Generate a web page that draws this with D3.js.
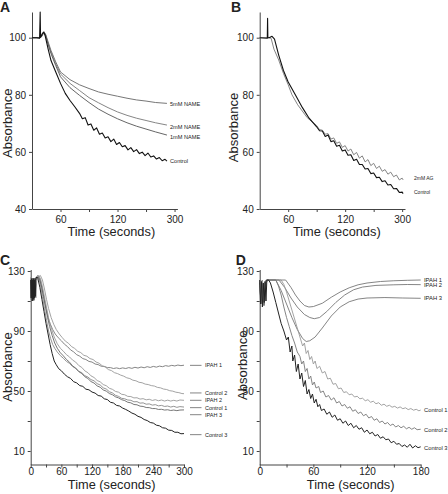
<!DOCTYPE html>
<html><head><meta charset="utf-8">
<script src="https://cdn.jsdelivr.net/npm/d3@7"></script>
<style>
html,body{margin:0;padding:0;background:#fff;}
svg{display:block;}
text{font-family:"Liberation Sans",Arial,sans-serif;fill:#222;}
</style></head><body>
<div id="chart"></div>
<script>
// ---------------- Panel A data (time s, absorbance) ----------------
const aControl = [[30,100],[35,100],[38,99.8],[38.6,109],[39,100.2],[41,101.5],[42.5,102],[44,100.5],[47,96],[50,92],[55,88],[60,84],[65,80.5],[70,78],[75,75.8],[80,73.5],[83,71.6],[86,72.0],[89,69.4],[92,69.8],[95,67.6],[98,68.4],[101,66.2],[104,66.6],[107,64.9],[110,65.3],[113,63.6],[116,64.5],[119,62.6],[122,63.3],[125,61.8],[128,62.2],[131,60.7],[134,61.5],[137,60.1],[140,60.8],[143,59.4],[146,59.9],[149,58.7],[152,59.6],[155,58.2],[158,58.6],[161,57.5],[164,58.0],[167,56.9],[170,57.4],[172,56.8]];
const a5mM = [[30,100],[38,100],[40,100.5],[42,101.8],[44,101.5],[47,98.5],[50,95.5],[55,91.5],[60,88],[70,85.3],[80,83.5],[90,82.2],[100,81],[110,80.2],[120,79.5],[130,78.8],[140,78.2],[150,77.8],[160,77.3],[172,77]];
const a2mM = [[30,100],[38,100],[40,100.4],[42,101.6],[44,101.3],[47,98],[50,95],[55,90.8],[60,87.3],[70,84],[80,81.5],[90,79],[100,77.2],[110,75.5],[120,74],[130,72.8],[140,71.8],[150,71],[160,70.2],[172,69.4]];
const a1mM = [[30,100],[38,100],[40,100.3],[42,101.5],[44,101.2],[47,97.6],[50,94.4],[55,90.2],[60,86.3],[70,82.5],[80,79.8],[90,77.3],[100,75],[110,73.2],[120,71.6],[130,70.2],[140,69],[150,68],[160,67],[172,65.9]];
const aLabels = ["5mM NAME","2mM NAME","1mM NAME","Control"];
const aLabelVals = [76.8,68.8,65.3,56.8];

// ---------------- Panel B data ----------------
const bControl = [[30,100],[38,99.8],[38.3,106.8],[38.6,100],[40,100],[43,100.5],[45.6,99.5],[50,93.9],[55,88.5],[60,84.5],[67.5,80],[75,75.5],[82,71.8],[90,68.8],[93,67.4],[96,67.3],[99,65.4],[102,65.9],[105,63.6],[108,63.9],[111,62.0],[114,62.3],[117,60.3],[120,60.7],[123,58.8],[126,59.0],[129,57.0],[132,57.4],[135,55.6],[138,55.6],[141,54.0],[144,54.2],[147,52.4],[150,52.6],[153,51.0],[156,51.1],[159,49.6],[162,49.9],[165,48.4],[168,48.6],[171,47.1],[174,47.2],[177,45.8],[180,45.9],[181,45.4]];
const bAG = [[30,100],[40,100],[42,99.8],[45,96],[50,92.2],[55,87.5],[60,83.5],[64,80],[70,76.5],[80,72],[90,69.2],[93,67.8],[96,67.6],[99,66.2],[102,66.4],[105,64.5],[108,64.9],[111,63.0],[114,63.5],[117,61.6],[120,62.2],[123,60.3],[126,61.0],[129,59.0],[132,59.8],[135,57.8],[138,58.6],[141,56.5],[144,57.3],[147,55.2],[150,56.0],[153,54.2],[156,55.0],[159,53.2],[162,53.8],[165,52.2],[168,52.9],[171,51.3],[174,51.9],[177,50.2],[180,50.8],[181,50.2]];
const bLabels = ["2mM AG","Control"];
const bLabelVals = [50.8,45.85];

// ---------------- Panel C data ----------------
const cIPAH1 = [[0,122],[1,111],[2,125],[3,112],[4,124],[5,110],[6,125],[7,112],[8,124],[11,126],[14,127],[18,125],[22,119],[26,112],[30,105],[34,99],[38,95],[43,91],[48,88],[54,85.5],[60,83.5],[66,81.2],[72,79.6],[78,77.4],[84,76.1],[90,74.2],[96,73.2],[102,71.6],[108,71.0],[114,69.7],[120,69.3],[126,68.0],[132,67.6],[138,66.5],[144,66.4],[150,65.6],[156,65.6],[162,65.0],[168,65.4],[174,64.9],[180,65.4],[186,65.0],[192,65.6],[198,65.1],[204,65.8],[210,65.3],[216,66.0],[222,65.5],[228,66.2],[234,65.7],[240,66.4],[246,65.9],[252,66.6],[258,66.2],[264,66.9],[270,66.5],[276,67.1],[282,66.7],[288,67.3],[294,66.9],[300,67.2]];
const cControl2 = [[0,124],[1,112],[2,125],[3,111],[4,124],[5,112],[6,125],[7,111],[8,124],[11,125],[15,126],[19,127],[23,124],[27,118],[31,111],[35,105],[40,99],[45,94.5],[50,91],[56,88],[62,85.5],[68,83.2],[74,81.8],[80,79.6],[86,78.4],[92,76.5],[98,75.6],[104,73.8],[110,73.2],[116,71.6],[122,71.0],[128,69.3],[134,68.5],[140,66.8],[146,66.0],[152,64.3],[158,63.6],[164,62.2],[170,61.6],[176,60.6],[182,59.9],[188,58.8],[194,58.3],[200,57.2],[206,56.8],[212,55.8],[218,55.5],[224,54.6],[230,54.3],[236,53.6],[242,53.3],[248,52.4],[254,52.1],[260,51.3],[266,51.0],[272,50.2],[278,49.9],[284,49.2],[290,48.9],[296,48.3],[300,48.2]];
const cIPAH2 = [[0,125],[1,111],[2,124],[3,113],[4,125],[5,110],[6,124],[7,113],[8,125],[11,126],[16,127],[20,124],[24,118],[28,111],[32,104],[36,97],[41,91],[46,86],[52,81.5],[58,78.5],[64,76.5],[70,74.2],[76,72.7],[82,70.6],[88,69.3],[94,67.0],[100,65.7],[106,63.4],[112,62.2],[118,60.1],[124,59.0],[130,57.0],[136,56.1],[142,54.3],[148,53.5],[154,51.8],[160,51.1],[166,49.7],[172,49.2],[178,47.8],[184,47.5],[190,46.4],[196,46.3],[202,45.4],[208,45.5],[214,44.6],[220,44.9],[226,44.1],[232,44.5],[238,43.7],[244,44.2],[250,43.5],[256,44.0],[262,43.3],[268,43.9],[274,43.3],[280,43.8],[286,43.3],[292,44.0],[300,43.8]];
const cControl1 = [[0,118],[1,126],[2,111],[3,125],[4,112],[5,124],[6,110],[7,125],[8,113],[9,124],[10,112],[12,125],[15,126],[19,121],[23,113],[27,105],[31,97],[35,90],[39,85],[43,81],[47,78.5],[52,76],[58,73.6],[64,71.8],[70,69.7],[76,68.4],[82,66.3],[88,65.1],[94,63.1],[100,62.2],[106,60.2],[112,59.3],[118,57.6],[124,56.8],[130,54.9],[136,54.0],[142,52.1],[148,51.3],[154,49.5],[160,48.7],[166,47.1],[172,46.4],[178,45.1],[184,44.8],[190,44.0],[196,43.8],[202,42.8],[208,42.9],[214,41.9],[220,42.1],[226,41.2],[232,41.4],[238,40.6],[244,40.9],[250,40.1],[256,40.4],[262,39.7],[268,40.0],[274,39.3],[280,39.8],[286,39.1],[292,39.6],[300,39.3]];
const cIPAH3 = [[0,123],[1,113],[2,124],[3,111],[4,125],[5,113],[6,124],[7,111],[8,125],[10,124],[13,126],[17,125],[21,120],[25,113],[29,106],[33,99],[37,93],[42,87],[47,82],[52,78.5],[58,75.5],[64,73.4],[70,71.0],[76,69.2],[82,66.7],[88,65.3],[94,63.0],[100,61.6],[106,59.5],[112,58.3],[118,56.3],[124,55.3],[130,53.4],[136,52.5],[142,50.7],[148,49.9],[154,48.3],[160,47.5],[166,46.1],[172,45.4],[178,44.2],[184,43.6],[190,42.5],[196,42.1],[202,41.0],[208,40.8],[214,39.9],[220,39.7],[226,39.0],[232,38.9],[238,38.3],[244,38.3],[250,37.7],[256,37.8],[262,37.3],[268,37.5],[274,37.0],[280,37.3],[286,36.9],[292,37.3],[300,37.4]];
const cControl3 = [[0,124],[1,112],[2,125],[3,110],[4,124],[5,111],[6,125],[7,112],[8,124],[9,113],[10,125],[12,126],[14,125],[18,119],[22,111],[26,103],[30,95],[34,88],[38,81],[42,75],[46,70],[50,67.5],[55,64.8],[60,63.5],[66,61.2],[72,59.5],[78,58.4],[84,56.2],[90,55.4],[96,53.6],[102,53.1],[108,51.2],[114,50.8],[120,49.3],[126,48.6],[132,47.0],[138,46.6],[144,44.8],[150,44.3],[156,42.5],[162,42.0],[168,40.4],[174,40.0],[180,38.6],[186,37.7],[192,36.6],[198,35.3],[204,34.5],[210,33.1],[216,32.4],[222,31.0],[228,30.3],[234,29.0],[240,28.6],[246,27.2],[252,26.8],[258,25.5],[264,25.2],[270,23.9],[276,23.7],[282,22.5],[288,22.5],[294,21.5],[300,21.6]];
const cLabels = ["IPAH 1","Control 2","IPAH 2","Control 1","IPAH 3","Control 3"];
const cLabelVals = [67.1,48.7,43.8,38.9,34.2,20.9];

// ---------------- Panel D data ----------------
const dIPAH1 = [[0,120],[1.5,110],[3,124],[5,108],[7,123],[9,124],[29,124],[35,119],[40,114],[45,110],[50,107],[55,106],[60,106.3],[70,108.5],[80,112.5],[90,116],[100,118.8],[110,120.8],[120,122],[135,123],[150,123.5],[165,123.8],[180,124]];
const dIPAH2 = [[0,122],[1.5,109],[3,123],[5,107],[7,124],[9,124],[21.5,124],[28,119],[35,112],[42,106],[50,101],[56,99],[61,98.2],[67,99],[75,103],[85,109],[95,114],[105,117.5],[115,119.3],[130,120.4],[150,120.8],[165,121],[180,120.9]];
const dIPAH3 = [[0,123],[1.5,111],[3,124],[5,109],[7,122],[9,124],[18,124],[24,117],[30,108],[36,99],[42,91],[48,85],[52,83],[56,83.5],[62,86],[70,92],[80,100],[90,106],[100,109.5],[110,111.3],[120,112],[140,112.3],[160,112],[180,111.8]];
const dControl1 = [[0,121],[1.5,109],[3,124],[5,110],[7,122],[9,124],[24,124],[27,121],[30,116],[33,110],[36,104],[39,98],[42,92],[45,86],[48,80],[50,82],[52,75],[54,77],[56,71],[58,73],[60,68],[62,70],[64,65],[67,66.5],[70,62],[73,63],[76,58],[79,58.5],[82,54.5],[85,55],[88,51.5],[91,52],[94,49],[97,49.5],[100,47.5],[103,48],[106,46],[109,46.5],[112,44.8],[115,45.2],[118,43.5],[121,44.2],[124,42.5],[127,43.2],[130,41.5],[133,42.2],[136,40.5],[139,41.2],[142,39.8],[145,40.5],[148,39.2],[151,39.8],[154,38.6],[157,39.4],[160,38.2],[163,38.8],[166,37.6],[169,38.3],[172,37.2],[175,37.8],[178,36.8],[180,37.3]];
const dControl2 = [[0,122],[1.5,108],[3,121],[4.5,107],[6,123],[8,124],[18,124],[21,120],[24,114],[27,106],[30,99],[33,93],[36,87],[39,82],[42,76],[45,73],[47,68],[49,70],[51,63],[53,65],[55,58],[57,60],[59,54],[61,56],[63,52],[66,53],[68,49],[71,50],[74,46],[77,47],[80,44],[83,45.5],[86,42],[89,43],[92,40],[95,41],[98,38.5],[101,39.5],[104,36.5],[107,37.5],[110,35],[113,36],[116,33.5],[119,34.5],[122,32],[125,33],[128,30.5],[131,31.5],[134,29],[137,30],[140,28],[143,29],[146,27],[149,28],[152,26],[155,27],[158,25.5],[161,26.5],[164,24.8],[167,25.8],[170,24.5],[173,25.5],[176,24.2],[180,24.5]];
const dControl3 = [[0,124],[1,108],[2,123],[3,106],[4,122],[5,109],[6,123],[7,110],[8,124],[10,124],[12,122],[15,116],[18,109],[21,102],[24,95],[27,90],[30,84],[32,86],[34,76],[36,80],[37,70],[39,74],[41,63],[43,68],[45,58],[47,62],[49,53],[51,57],[53,48],[55,51],[57,45],[59,48],[61,42],[63,44.5],[65,39.5],[67,41],[69,37],[72,38],[75,34.5],[78,36],[81,32.5],[84,34],[87,30.5],[90,31.5],[93,28.5],[96,30],[99,27],[102,28.5],[105,25.5],[108,27],[111,24.5],[114,25.5],[117,22.5],[120,24],[123,21.5],[126,22.5],[129,20],[132,21],[135,18.5],[138,19.5],[141,17.5],[144,18],[147,15.5],[150,16.5],[153,14.5],[156,15],[159,13],[162,14],[165,12.5],[168,14.5],[171,12],[174,13.5],[177,12.2],[180,12.8]];
const dLabels = ["IPAH 1","IPAH 2","IPAH 3","Control 1","Control 2","Control 3"];
const dLabelVals = [123.8,120.5,112,37.1,24.2,12];

// ---------------- Tick labels ----------------
const abXTicks = [60,90,120,150,180];
const abXTickLabels = {60:"60",120:"120",180:"300"};
const abYTicks = [40,60,80,100];
const cXTicks = [0,30,60,90,120,150,180,210,240,270,300];
const cXTickLabels = {0:"0",60:"60",120:"120",180:"180",240:"240",300:"300"};
const dXTicks = [0,30,60,90,120,150,180];
const dXTickLabels = {0:"0",60:"60",120:"120",180:"180"};
const cdYTicks = [10,30,50,70,90,110,130];
const cdYTickLabels = {10:"10",50:"50",90:"90",130:"130"};

const svg = d3.select("#chart").append("svg").attr("width",448).attr("height",494);

function panel(o){
  const g = svg.append("g");
  const x = d3.scaleLinear().domain(o.xDomain).range(o.xRange);
  const y = d3.scaleLinear().domain(o.yDomain).range(o.yRange);
  const line = d3.line().x(d=>x(d[0])).y(d=>y(d[1]));
  const xa = g.append("g").attr("transform",`translate(0,${o.yRange[0]})`)
    .call(d3.axisBottom(x).tickValues(o.xTicks).tickSize(3).tickSizeOuter(0).tickPadding(o.xPad)
      .tickFormat(d=>o.xTickLabels[d]||""));
  const ya = g.append("g").attr("transform",`translate(${o.xRange[0]},0)`)
    .call(d3.axisLeft(y).tickValues(o.yTicks).tickSize(3).tickSizeOuter(0).tickPadding(3)
      .tickFormat(d=>o.yTickLabels ? (o.yTickLabels[d]||"") : String(d)));
  [xa,ya].forEach(a=>{
    a.select(".domain").attr("stroke","#444").attr("stroke-width",1);
    a.selectAll(".tick line").attr("stroke","#444");
    a.selectAll("text").attr("font-size",10).attr("fill","#222")
      .style("font-family","'Liberation Sans',Arial,sans-serif");
  });
  o.series.forEach(s=>{
    g.append("path").datum(s.data).attr("d",line).attr("fill","none")
      .attr("stroke",s.color).attr("stroke-width",s.w||0.9).attr("stroke-linejoin","round");
  });
  o.labels.forEach((t,i)=>{
    const yy = y(o.labelVals[i]);
    if(o.leader){
      g.append("line").attr("x1",o.labelX-15).attr("x2",o.labelX-3.5)
        .attr("y1",yy).attr("y2",yy).attr("stroke","#666").attr("stroke-width",0.8);
    }
    g.append("text").attr("x",o.labelX).attr("y",yy).attr("dy","0.35em")
      .attr("font-size",o.labelSize||5.6).attr("fill","#333").text(t);
  });
  g.append("text").attr("x",o.xTitle[0]).attr("y",o.xTitle[1]).attr("text-anchor","middle")
    .attr("font-size",12.8).text("Time (seconds)");
  g.append("text").attr("transform",`translate(${o.yTitle[0]},${o.yTitle[1]}) rotate(-90)`)
    .attr("text-anchor","middle").attr("dy","0.35em").attr("font-size",13).text("Absorbance");
  g.append("text").attr("x",o.letter[0]).attr("y",o.letter[1]).attr("font-size",14)
    .attr("font-weight","bold").attr("fill","#000").text(o.letterText);
}

panel({
  xDomain:[30,183], xRange:[32,177.4], yDomain:[40,109], yRange:[209,12], xPad:4,
  xTicks:abXTicks, xTickLabels:abXTickLabels, yTicks:abYTicks,
  series:[{data:a5mM,color:"#666"},{data:a2mM,color:"#777"},{data:a1mM,color:"#555"},{data:aControl,color:"#111",w:1.1}],
  labels:aLabels, labelVals:aLabelVals, labelX:170,
  xTitle:[111.3,236], yTitle:[7.5,123.3], letter:[0,12], letterText:"A"
});
panel({
  xDomain:[30,183], xRange:[259.7,405], yDomain:[40,109], yRange:[209,12], xPad:4,
  xTicks:abXTicks, xTickLabels:abXTickLabels, yTicks:abYTicks,
  series:[{data:bAG,color:"#777"},{data:bControl,color:"#111",w:1.1}],
  labels:bLabels, labelVals:bLabelVals, labelX:414, labelSize:5,
  xTitle:[336.8,236], yTitle:[233.5,127.5], letter:[231,12], letterText:"B"
});
panel({
  xDomain:[0,300], xRange:[30.7,184], yDomain:[1,131], yRange:[464.5,269.5], xPad:0,
  xTicks:cXTicks, xTickLabels:cXTickLabels, yTicks:cdYTicks, yTickLabels:cdYTickLabels,
  series:[{data:cIPAH1,color:"#777"},{data:cControl2,color:"#999"},{data:cIPAH2,color:"#999"},
          {data:cControl1,color:"#888"},{data:cIPAH3,color:"#666"},{data:cControl3,color:"#222",w:1}],
  labels:cLabels, labelVals:cLabelVals, labelX:205, leader:true, labelSize:5.5,
  xTitle:[111.7,489], yTitle:[7,367], letter:[0,264.5], letterText:"C"
});
panel({
  xDomain:[0,180], xRange:[259.7,420.7], yDomain:[1,131], yRange:[464.5,269.5], xPad:0,
  xTicks:dXTicks, xTickLabels:dXTickLabels, yTicks:cdYTicks, yTickLabels:cdYTickLabels,
  series:[{data:dIPAH1,color:"#777"},{data:dIPAH2,color:"#777"},{data:dIPAH3,color:"#777"},
          {data:dControl1,color:"#999"},{data:dControl2,color:"#777"},{data:dControl3,color:"#222",w:1}],
  labels:dLabels, labelVals:dLabelVals, labelX:424, labelSize:5.8,
  xTitle:[350.7,489], yTitle:[242.3,365.3], letter:[235.7,264.5], letterText:"D"
});
</script>
</body></html>
